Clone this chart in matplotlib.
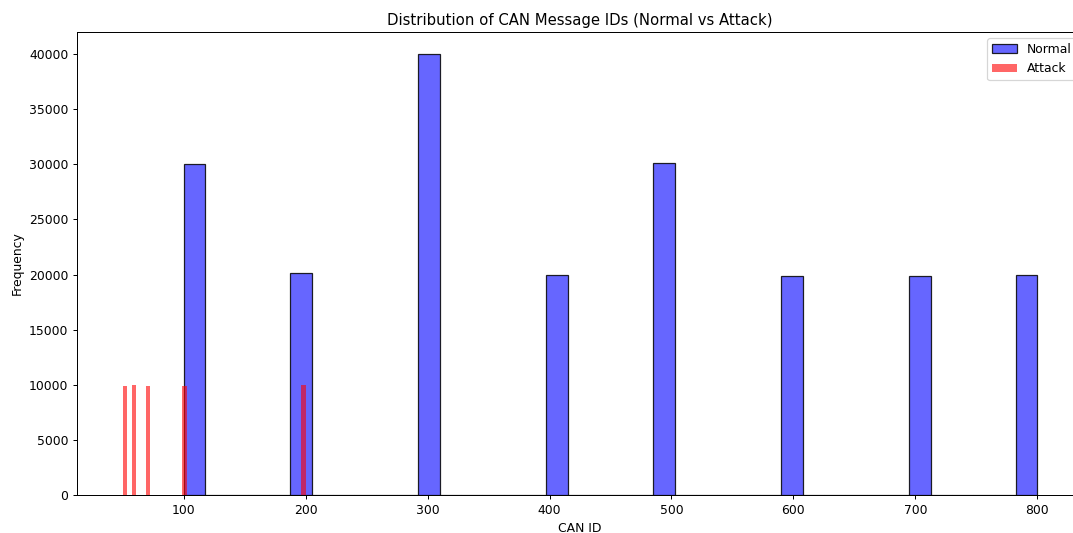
import matplotlib
matplotlib.use("Agg")
import matplotlib.pyplot as plt
import numpy as np

# CAN IDs observed in each traffic class and how many frames carried them
normal_ids = [100, 200, 300, 400, 500, 600, 700, 800]
normal_counts = [30000, 20100, 40000, 20000, 30100, 19900, 19900, 20000]
attack_ids = [50, 60, 70, 100, 200]
attack_counts = [9900, 10000, 9900, 9900, 10000]

W, H = 1073, 533
dpi = 89.4
fig = plt.figure(figsize=(W / dpi, H / dpi), dpi=dpi)
ax = fig.add_axes([77 / W, 1 - 495 / H, (1083 - 77) / W, (495 - 32) / H])

# translucent fill, but keep the outline of the normal bars solid black
ax.hist(normal_ids, bins=40, weights=normal_counts,
        facecolor=(0, 0, 1, 0.6), edgecolor=(0, 0, 0, 0.85), label="Normal")
ax.hist(attack_ids, bins=40, weights=attack_counts, alpha=0.6,
        color="red", label="Attack")

ax.set_title("Distribution of CAN Message IDs (Normal vs Attack)")
ax.set_xlabel("CAN ID")
ax.set_ylabel("Frequency")
ax.legend(loc="upper right")

fig.savefig("out.png", dpi=dpi)
